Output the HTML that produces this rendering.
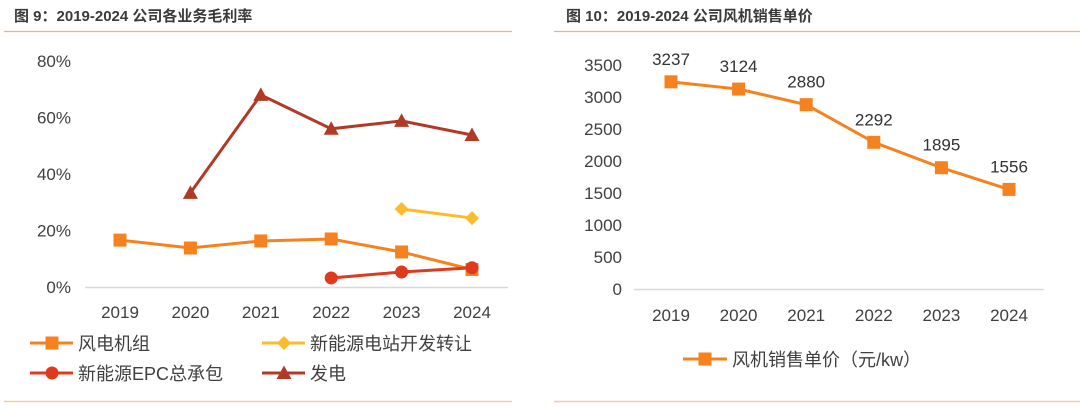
<!DOCTYPE html>
<html><head><meta charset="utf-8"><style>
body{margin:0;background:#fff;width:1080px;height:403px;overflow:hidden}
svg text{font-family:"Liberation Sans","Noto Sans CJK SC",sans-serif}
</style></head><body>
<svg id="s" width="1080" height="403">
<text x="14" y="21" font-size="15" font-weight="bold" fill="#3a3a3a">图 9：2019-2024 公司各业务毛利率</text>
<line x1="4" y1="31.5" x2="512" y2="31.5" stroke="#F4B27A" stroke-width="1.2"/>
<line x1="4" y1="401.5" x2="512" y2="401.5" stroke="#F8C9A0" stroke-width="1.5"/>
<text x="566" y="21" font-size="15" font-weight="bold" fill="#3a3a3a">图 10：2019-2024 公司风机销售单价</text>
<line x1="554" y1="31.5" x2="1080" y2="31.5" stroke="#F4B27A" stroke-width="1.2"/>
<line x1="554" y1="401.5" x2="1080" y2="401.5" stroke="#F8C9A0" stroke-width="1.5"/>
<g id="L"></g><g id="R"></g>
</svg>
<script>
const years=["2019","2020","2021","2022","2023","2024"];
const windTurbine=[16.6,13.8,16.3,17.0,12.4,6.2];
const stationTransfer=[null,null,null,null,27.6,24.4];
const epc=[null,null,null,3.2,5.3,6.8];
const power=[null,33.3,68.0,56.0,58.8,53.8];
const leftTicks=[0,20,40,60,80];
const priceValues=[3237,3124,2880,2292,1895,1556];
const rightTicks=[0,500,1000,1500,2000,2500,3000,3500];
const NS="http://www.w3.org/2000/svg";
function mk(p,t,a){const e=document.createElementNS(NS,t);for(const k in a)e.setAttribute(k,a[k]);p.appendChild(e);return e;}
const L=document.getElementById('L'),R=document.getElementById('R');
// left axes
const lx=i=>120+i*70.4, ly=v=>287-v*2.825;
let ax=mk(L,'line',{x1:85,y1:287.5,x2:508,y2:287.5,stroke:'#d9d9d9','stroke-width':1.5});

leftTicks.forEach(v=>{const t=mk(L,'text',{x:71,y:ly(v)+6,'font-size':17,fill:'#404040','text-anchor':'end'});t.textContent=v+'%';
});
years.forEach((y,i)=>{const t=mk(L,'text',{x:lx(i),y:318,'font-size':17,fill:'#404040','text-anchor':'middle'});t.textContent=y;
});
function marker(g,type,x,y,c){let e;
 if(type=='sq')e=mk(g,'rect',{x:x-6.5,y:y-6.5,width:13,height:13,fill:c});
 else if(type=='di')e=mk(g,'path',{d:`M${x} ${y-7}L${x+7} ${y}L${x} ${y+7}L${x-7} ${y}Z`,fill:c});
 else if(type=='ci')e=mk(g,'circle',{cx:x,cy:y,r:6.5,fill:c});
 else e=mk(g,'path',{d:`M${x} ${y-7.5}L${x+7.5} ${y+6}L${x-7.5} ${y+6}Z`,fill:c});
 return e;}
const series=[[windTurbine,'#F5821F','sq','wind-turbine'],[stationTransfer,'#FBBC2C','di','station-transfer'],[power,'#B03A26','tr','power-generation'],[epc,'#E03A1E','ci','epc-contracting']];
series.forEach(([d,c,m,n])=>{const g=mk(L,'g',{});
 const pts=[];d.forEach((v,i)=>{if(v!=null)pts.push([lx(i),ly(v)]);});
 const pl=mk(g,'polyline',{points:pts.map(p=>p.join(',')).join(' '),fill:'none',stroke:c,'stroke-width':3});
 
 pts.forEach(p=>{const e=marker(g,m,p[0],p[1],c);});});
const leg=[['风电机组','#F5821F','sq',30,343,'wind-turbine'],['新能源电站开发转让','#FBBC2C','di',262,343,'station-transfer'],['新能源EPC总承包','#E03A1E','ci',30,373,'epc-contracting'],['发电','#B03A26','tr',262,373,'power-generation']];
leg.forEach(([t,c,m,x,y,n])=>{const g=mk(L,'g',{});
 mk(g,'line',{x1:x,y1:y,x2:x+43,y2:y,stroke:c,'stroke-width':3});marker(g,m,x+22,y,c);
 const tx=mk(g,'text',{x:x+48,y:y+7,'font-size':18,fill:'#404040'});tx.textContent=t;});
// right
const rx=i=>671+i*67.6, ry=v=>289-v*0.064;
ax=mk(R,'line',{x1:634,y1:289.5,x2:1044,y2:289.5,stroke:'#d9d9d9','stroke-width':1.5});

rightTicks.forEach(v=>{const t=mk(R,'text',{x:622,y:ry(v)+6,'font-size':17,fill:'#404040','text-anchor':'end'});t.textContent=v;
});
years.forEach((y,i)=>{const t=mk(R,'text',{x:rx(i),y:321,'font-size':17,fill:'#404040','text-anchor':'middle'});t.textContent=y;
});
const g=mk(R,'g',{});
const pl=mk(g,'polyline',{points:priceValues.map((v,i)=>rx(i)+','+ry(v)).join(' '),fill:'none',stroke:'#F5821F','stroke-width':3});

priceValues.forEach((v,i)=>{const e=marker(g,'sq',rx(i),ry(v),'#F5821F');
 const t=mk(g,'text',{x:rx(i),y:ry(v)-17,'font-size':17,fill:'#333','text-anchor':'middle'});t.textContent=v;
 });
const lg=mk(R,'g',{});
mk(lg,'line',{x1:683,y1:359,x2:727,y2:359,stroke:'#F5821F','stroke-width':3});marker(lg,'sq',705,359,'#F5821F');
const lt=mk(lg,'text',{x:732,y:366,'font-size':18,fill:'#404040'});lt.textContent='风机销售单价（元/kw）';
</script>
</body></html>
